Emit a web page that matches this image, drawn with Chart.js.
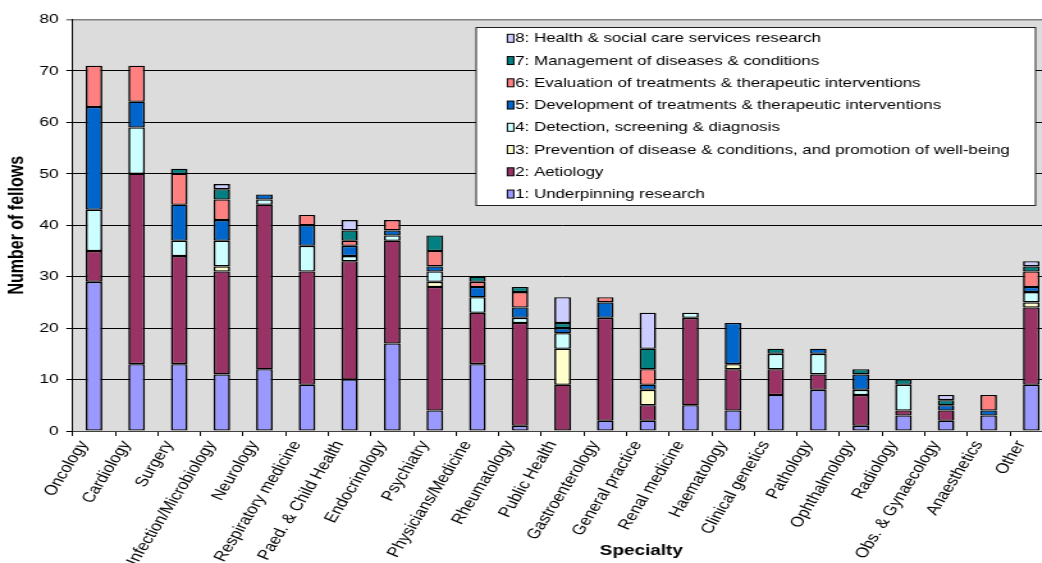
<!DOCTYPE html>
<html>
<head>
<meta charset="utf-8">
<script src="https://cdn.jsdelivr.net/npm/chart.js@4.4.1/dist/chart.umd.min.js"></script>
<style>
  html, body { margin: 0; padding: 0; background: #fff; }
  #wrap { width: 1042px; height: 563px; overflow: hidden; position: relative; }
  /* the original picture is stretched sideways, so stretch the canvas too */
  #stretch { width: 823px; height: 563px; transform: scaleX(1.28); transform-origin: 0 0; }
</style>
</head>
<body>
<div id="wrap"><div id="stretch"><canvas id="fellowsChart" width="823" height="563"></canvas></div></div>
<script>
const categories = [
  "Oncology", "Cardiology", "Surgery", "Infection/Microbiology", "Neurology",
  "Respiratory medicine", "Paed. & Child Health", "Endocrinology", "Psychiatry",
  "Physicians/Medicine", "Rheumatology", "Public Health", "Gastroenterology",
  "General practice", "Renal medicine", "Haematology", "Clinical genetics",
  "Pathology", "Ophthalmology", "Radiology", "Obs. & Gynaecology", "Anaesthetics", "Other"
];

const seriesNames = [
  "1: Underpinning research",
  "2: Aetiology",
  "3: Prevention of disease & conditions, and promotion of well-being",
  "4: Detection, screening & diagnosis",
  "5: Development of treatments & therapeutic interventions",
  "6: Evaluation of treatments & therapeutic interventions",
  "7: Management of diseases & conditions",
  "8: Health & social care services research"
];

const underpinning = [29, 13, 13, 11, 12, 9, 10, 17, 4, 13, 1, 0, 2, 2, 5, 4, 7, 8, 1, 3, 2, 3, 9];
const aetiology    = [6, 37, 21, 20, 32, 22, 23, 20, 24, 10, 20, 9, 20, 3, 17, 8, 5, 3, 6, 1, 2, 0, 15];
const prevention   = [0, 0, 0, 1, 0, 0, 0, 0, 1, 0, 0, 7, 0, 3, 0, 1, 0, 0, 0, 0, 0, 0, 1];
const detection    = [8, 9, 3, 5, 1, 5, 1, 1, 2, 3, 1, 3, 0, 0, 1, 0, 3, 4, 1, 5, 0, 0, 2];
const development  = [20, 5, 7, 4, 1, 4, 2, 1, 1, 2, 2, 1, 3, 1, 0, 8, 0, 1, 3, 0, 1, 1, 1];
const evaluation   = [8, 7, 6, 4, 0, 2, 1, 2, 3, 1, 3, 0, 1, 3, 0, 0, 0, 0, 0, 0, 0, 3, 3];
const management   = [0, 0, 1, 2, 0, 0, 2, 0, 3, 1, 1, 1, 0, 4, 0, 0, 1, 0, 1, 1, 1, 0, 1];
const healthCare   = [0, 0, 0, 1, 0, 0, 2, 0, 0, 0, 0, 5, 0, 7, 0, 0, 0, 0, 0, 0, 1, 0, 1];

const seriesColors = ["#9999FF", "#993366", "#FFFFCC", "#CCFFFF", "#0066CC", "#FF8080", "#008080", "#CCCCFF"];

const yMax = 80;
const yStep = 10;

const allSeries = [underpinning, aetiology, prevention, detection, development, evaluation, management, healthCare];

const FONT = '"Liberation Sans", Arial, sans-serif';

// grey plot area behind the bars
const plotBackground = {
  id: "plotBackground",
  beforeDraw(chart) {
    const a = chart.chartArea;
    const ctx = chart.ctx;
    ctx.save();
    ctx.fillStyle = "#DCDCDC";
    ctx.fillRect(a.left, a.top, a.right - a.left, a.bottom - a.top);
    ctx.restore();
  }
};

// boxed legend inside the plot, and the x title which sits off centre
const boxLegend = {
  id: "boxLegend",
  afterDraw(chart) {
    const ctx = chart.ctx;
    ctx.save();
    ctx.fillStyle = "#fff";
    ctx.fillRect(372, 27.5, 437, 178);
    ctx.strokeStyle = "#222";
    ctx.lineWidth = 1;
    ctx.strokeRect(372, 27.5, 437, 178);

    ctx.font = "13.2px " + FONT;
    ctx.textBaseline = "middle";
    const items = chart.data.datasets.slice().reverse();
    items.forEach((ds, i) => {
      const cy = 38.3 + i * 22.25;
      ctx.fillStyle = ds.backgroundColor;
      ctx.fillRect(396.4, cy - 4, 5, 8);
      ctx.strokeStyle = "#000";
      ctx.strokeRect(396.4, cy - 4, 5, 8);
      ctx.fillStyle = "#000";
      ctx.fillText(ds.label, 402.5, cy + 0.5);
    });

    ctx.font = "bold 14.8px " + FONT;
    ctx.textAlign = "center";
    ctx.fillText("Specialty", 501, 551);
    ctx.restore();
  }
};

new Chart(document.getElementById("fellowsChart"), {
  type: "bar",
  data: {
    labels: categories,
    datasets: allSeries.map((values, i) => ({
      label: seriesNames[i],
      data: values.map(v => (v === 0 ? null : v)),
      backgroundColor: seriesColors[i],
      borderColor: "#000",
      borderWidth: { left: 1.6, right: 1.6, top: 1.3, bottom: 1.3 },
      borderSkipped: false,
      barPercentage: 0.39,
      categoryPercentage: 1
    }))
  },
  options: {
    responsive: false,
    animation: false,
    layout: { padding: { top: 19.5, right: 0.7, bottom: 0, left: 0 } },
    scales: {
      x: {
        stacked: true,
        afterFit: s => { s.height = 132; },
        border: { color: "#404040", width: 1 },
        grid: { drawOnChartArea: false, drawTicks: true, tickLength: 5, color: "#000", offset: true },
        ticks: {
          autoSkip: false,
          minRotation: 63,
          maxRotation: 63,
          padding: 2,
          labelOffset: -8,
          color: "#000",
          font: { family: FONT, size: 14.2 }
        }
      },
      y: {
        stacked: true,
        min: 0,
        max: yMax,
        afterFit: s => { s.width = 56.8; },
        border: { color: "#000", width: 1 },
        grid: {
          color: c => (c.tick && c.tick.value === yMax ? "#808080" : "#000"),
          lineWidth: c => (c.tick && c.tick.value === yMax ? 1.5 : 1),
          tickLength: 5
        },
        ticks: {
          stepSize: yStep,
          padding: 6,
          color: "#000",
          font: { family: FONT, size: 13.6 }
        },
        title: {
          display: true,
          text: "Number of fellows",
          color: "#000",
          padding: { top: 4, bottom: 0 },
          font: { family: FONT, size: 16, weight: "bold" }
        }
      }
    },
    plugins: {
      legend: { display: false },
      tooltip: { enabled: false }
    }
  },
  plugins: [plotBackground, boxLegend]
});
</script>
</body>
</html>
